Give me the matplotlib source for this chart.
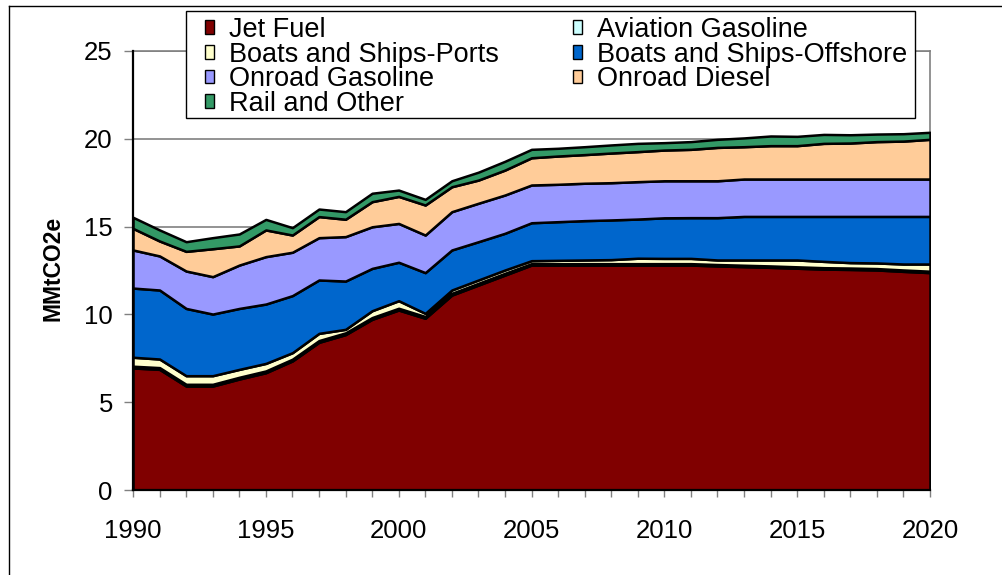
import matplotlib
matplotlib.use('Agg')
import matplotlib.pyplot as plt
from matplotlib.lines import Line2D
from matplotlib.patches import Patch, Rectangle

plt.rcParams['font.family'] = ['Liberation Sans', 'DejaVu Sans']

years = list(range(1990, 2021))

# MMtCO2e per sector (stacked, bottom to top)
jet_fuel = [6.95, 6.87, 5.92, 5.92, 6.32, 6.68, 7.35, 8.41, 8.85, 9.72, 10.25,
            9.78, 11.10, 11.67, 12.24, 12.81, 12.81, 12.81, 12.81, 12.81, 12.81,
            12.81, 12.76, 12.72, 12.68, 12.63, 12.58, 12.56, 12.53, 12.45, 12.38]
aviation_gasoline = [0.10] * 15 + [0.08] * 16
boats_ports = [0.51, 0.49, 0.49, 0.49, 0.45, 0.43, 0.37, 0.41, 0.20, 0.39, 0.43,
               0.18, 0.19, 0.19, 0.19, 0.17, 0.19, 0.21, 0.23, 0.31, 0.30,
               0.30, 0.26, 0.30, 0.34, 0.39, 0.36, 0.31, 0.32, 0.34, 0.41]
boats_offshore = [3.94, 3.93, 3.83, 3.51, 3.47, 3.38, 3.25, 3.04, 2.75, 2.41, 2.19,
                  2.32, 2.28, 2.18, 2.09, 2.16, 2.20, 2.24, 2.26, 2.23, 2.31,
                  2.32, 2.41, 2.48, 2.48, 2.48, 2.56, 2.63, 2.65, 2.71, 2.71]
onroad_gasoline = [2.17, 1.94, 2.13, 2.13, 2.47, 2.70, 2.47, 2.41, 2.53, 2.37, 2.21,
                   2.14, 2.18, 2.19, 2.18, 2.15, 2.13, 2.13, 2.12, 2.13, 2.11,
                   2.10, 2.10, 2.13, 2.13, 2.13, 2.13, 2.13, 2.13, 2.13, 2.13]
onroad_diesel = [1.23, 0.85, 1.12, 1.59, 1.09, 1.52, 0.98, 1.20, 0.99, 1.43, 1.54,
                 1.71, 1.42, 1.32, 1.42, 1.55, 1.61, 1.63, 1.69, 1.71, 1.75,
                 1.79, 1.90, 1.84, 1.90, 1.90, 2.03, 2.05, 2.13, 2.16, 2.26]
rail_other = [0.63, 0.63, 0.55, 0.63, 0.68, 0.60, 0.42, 0.43, 0.43, 0.48, 0.36,
              0.32, 0.34, 0.45, 0.50, 0.48, 0.44, 0.45, 0.46, 0.47, 0.42,
              0.44, 0.46, 0.50, 0.55, 0.53, 0.51, 0.47, 0.43, 0.42, 0.40]

labels = ['Jet Fuel', 'Aviation Gasoline', 'Boats and Ships-Ports',
          'Boats and Ships-Offshore', 'Onroad Gasoline', 'Onroad Diesel',
          'Rail and Other']
colors = ['#800000', '#CCFFFF', '#FFFFCC', '#0066CC', '#9999FF', '#FFCC99', '#339966']
series = [jet_fuel, aviation_gasoline, boats_ports, boats_offshore,
          onroad_gasoline, onroad_diesel, rail_other]

W, H = 1002, 575
fig = plt.figure(figsize=(W / 100, H / 100), dpi=100)
ax = fig.add_axes([133 / W, 1 - 490 / H, (930 - 133) / W, (490 - 51) / H])

ax.stackplot(years, *series, colors=colors, edgecolor='black', linewidth=1.8, zorder=3)

ax.set_xlim(1990, 2020)
ax.set_ylim(0, 25)
ax.set_yticks([0, 5, 10, 15, 20, 25])
ax.set_xticks(years)
ax.set_xticklabels([str(y) if y % 5 == 0 else '' for y in years])
ax.grid(axis='y', color='#808080', linewidth=1.2, zorder=0)

ax.tick_params(axis='y', direction='out', length=6.5, width=1, color='#808080',
               labelsize=18.5, pad=8)
ax.tick_params(axis='x', direction='out', length=5, width=1, color='#808080',
               labelsize=18.5, pad=16)
for s in ['top', 'right']:
    ax.spines[s].set_color('#808080')
    ax.spines[s].set_linewidth(1.2)
for s in ['left', 'bottom']:
    ax.spines[s].set_color('black')
    ax.spines[s].set_linewidth(1.6)
    ax.spines[s].set_zorder(4)

fig.text(53 / W, 1 - 268 / H, 'MMtCO2e', rotation=90, ha='center', va='center',
         fontsize=16.5, fontweight='bold')

# legend box drawn by hand, entries in two columns filled row by row
ax.add_patch(Rectangle((186 / W, 1 - 118 / H), (915 - 186) / W, (118 - 11) / H,
                       transform=fig.transFigure, facecolor='white', edgecolor='black',
                       linewidth=1, clip_on=False, zorder=9))
order = [0, 2, 4, 6, 1, 3, 5]
handles = [Patch(facecolor=colors[i], edgecolor='black', linewidth=1) for i in order]
leg = ax.legend(handles, [labels[i] for i in order], ncol=2, loc='upper left',
                bbox_to_anchor=(205 / W, 1 - 17 / H),
                bbox_transform=fig.transFigure, fontsize=19.5,
                frameon=False, handlelength=0.33, handleheight=0.4,
                handletextpad=0.55, labelspacing=-0.05, borderpad=0.0,
                borderaxespad=0.0, columnspacing=2.75)
leg.set_zorder(10)

# outer chart border (top and left edges visible)
fig.add_artist(Line2D([9 / W, 1], [1 - 6 / H, 1 - 6 / H], color='black', linewidth=1))
fig.add_artist(Line2D([9 / W, 9 / W], [0, 1 - 6 / H], color='black', linewidth=1))

fig.savefig('out.png', dpi=100)
